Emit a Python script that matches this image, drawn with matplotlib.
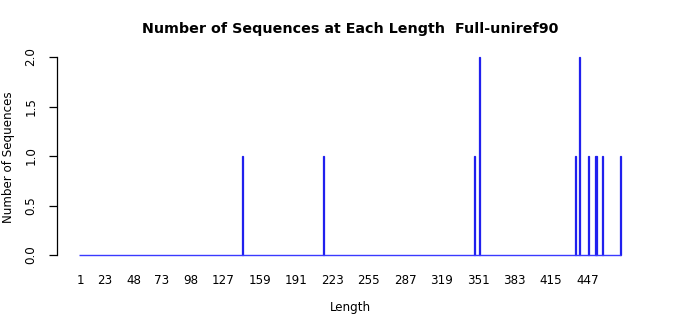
import numpy as np
import matplotlib
matplotlib.use('Agg')
import matplotlib.pyplot as plt

# lengths that have sequences, and how many
seq_lengths = [144, 215, 348, 352, 437, 440, 448, 454, 455, 460, 476]
seq_counts = [1, 1, 1, 2, 1, 2, 1, 1, 1, 1, 1]
max_len = 476

x_tick_labels = [1, 23, 48, 73, 98, 127, 159, 191, 223, 255, 287, 319, 351, 383, 415, 447]
y_ticks = [0.0, 0.5, 1.0, 1.5, 2.0]

# full table, one bar per length
lengths = np.arange(1, max_len + 1)
counts = np.zeros(max_len)
for L, c in zip(seq_lengths, seq_counts):
    counts[L - 1] = c

fig = plt.figure(figsize=(7, 3.15), dpi=100)
W, H = 700, 315
px_per_unit = 1.1375
left_px, right_px = 57, 640
bot_px, top_px = 265, 49
ax = fig.add_axes([left_px / W, 1 - bot_px / H, (right_px - left_px) / W, (bot_px - top_px) / H])

x0 = 1 - (80 - left_px) / px_per_unit
x1 = 1 + (right_px - 80) / px_per_unit
ax.set_xlim(x0, x1)
ypu = (255 - 57) / 2.0
ax.set_ylim(-(265 - 255) / ypu, 2 + (57 - 49) / ypu)

# zero-count bars show up as one continuous baseline
ax.hlines(0, lengths[0] - 0.6, lengths[-1] + 0.4, color='#3a3aff', linewidth=1.0)
nz = counts > 0
ax.bar(lengths[nz], counts[nz], width=0.83, color='#3a3aff', edgecolor='#2020ee', linewidth=0.9)

for s in ['top', 'right', 'bottom']:
    ax.spines[s].set_visible(False)
ax.spines['left'].set_bounds(0, 2)
ax.spines['left'].set_linewidth(0.9)

ax.set_yticks(y_ticks)
ax.set_yticklabels([f'{v:.1f}' for v in y_ticks], rotation=90, va='center', fontsize=8.6)
ax.tick_params(axis='y', length=6, width=0.9, pad=8)

ax.set_xticks(x_tick_labels)
ax.set_xticklabels([str(v) for v in x_tick_labels], fontsize=8.6)
ax.tick_params(axis='x', length=0, pad=6.5)

fig.text(350 / W, 1 - 307 / H, 'Length', ha='center', va='center', fontsize=8.6)
fig.text(9 / W, 1 - 157 / H, 'Number of Sequences', ha='center', va='center', rotation=90, fontsize=8.6)
fig.text(350 / W, 1 - 29 / H, 'Number of Sequences at Each Length  Full-uniref90',
         ha='center', va='center', fontsize=10.3, fontweight='bold')

fig.savefig('out.png', dpi=100)
